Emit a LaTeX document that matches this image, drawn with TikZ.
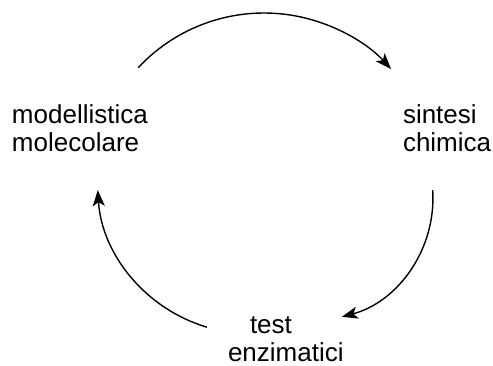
\documentclass[tikz,border=0pt]{standalone}
\usepackage{fontspec}
\setmainfont{Liberation Sans}
\usetikzlibrary{arrows.meta}
\begin{document}
\begin{tikzpicture}[x=1pt,y=1pt,
  lbl/.style={inner sep=0pt, outer sep=0pt, align=left, anchor=base west,
    font=\fontsize{26}{28}\selectfont},
  cyc/.style={line width=1.4pt, -{Stealth[length=16pt,width=12pt,inset=4pt]}}]
\useasboundingbox (0,0) rectangle (493,365);
\node[lbl] (mod) at (12,214) {modellistica\\molecolare};
\node[lbl] (sin) at (403,214) {sintesi\\chimica};
\node[lbl] (tes) at (228,4) {\hspace*{22pt}test\\enzimatici};
\coordinate (a1) at (138.2,297.3);
\coordinate (a3) at (432.7,174.9);
\coordinate (a5) at (207,37.8);
\draw[cyc] (a1) arc[start angle=137, end angle=42.4, radius=172];
\draw[cyc] (a3) arc[start angle=3.7, end angle=-75, radius=123];
\draw[cyc] (a5) arc[start angle=253.5, end angle=183.6, radius=153];
\end{tikzpicture}
\end{document}
